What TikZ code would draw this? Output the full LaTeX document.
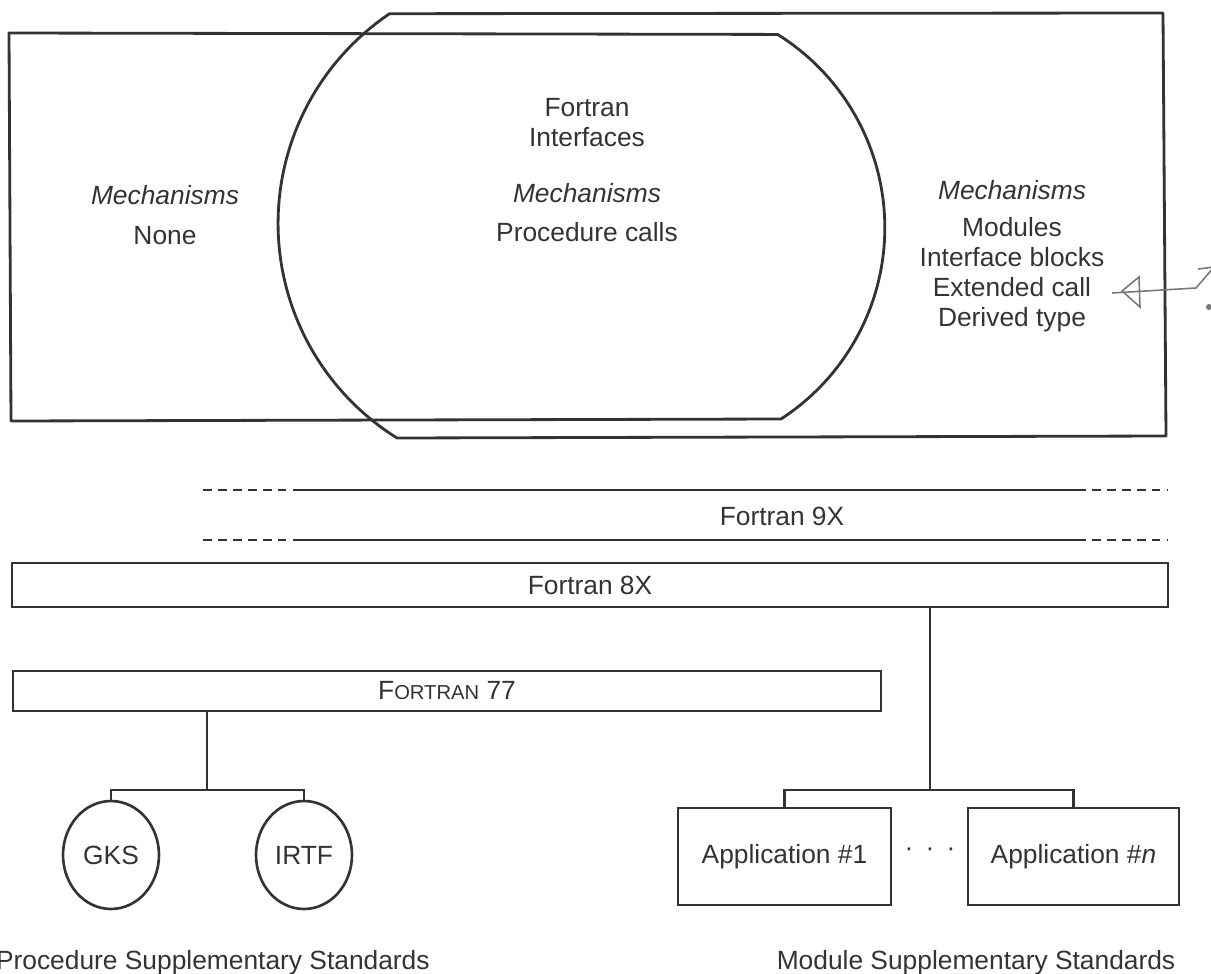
\documentclass[tikz,border=0pt]{standalone}
\usepackage{fontspec}
\setmainfont{Liberation Sans}
\usetikzlibrary{calc,positioning,shapes.geometric}
\definecolor{ink}{HTML}{333333}
\definecolor{pencil}{HTML}{777777}
\newcommand{\smallcap}[1]{{\fontsize{11.5}{12}\selectfont #1}}

\begin{document}
\begin{tikzpicture}[x=0.02cm,y=-0.02cm,
  outline/.style={draw=ink,line width=1.6pt,line join=round},
  link/.style={draw=ink,line width=1.2pt},
  rule/.style={draw=ink,line width=1.5pt},
  note/.style={draw=pencil,line width=0.9pt},
  txt/.style={font=\fontsize{15}{17}\selectfont,text=ink,align=center,inner sep=0pt},
  bar/.style={txt,draw=ink,line width=1.5pt,rectangle},
  stdnode/.style={txt,ellipse,draw=ink,line width=1.5pt,minimum width=1.92cm,minimum height=2.16cm}]
  \useasboundingbox (0,0) rectangle (1211,974);

  \draw[outline] (9,33) -- (11,421) -- (781,419) arc[start angle=57,end angle=-58,radius=228] -- cycle;
  \draw[outline] (397,438) arc[start angle=122,end angle=236,radius=253] -- (1163,13) -- (1166,436) -- cycle;

  \node[txt] (lmech) at (165,215) {\textit{Mechanisms}\\[5.7pt]None};
  \node[txt] (mmech) at (587,170) {Fortran\\Interfaces\\[14.7pt]\textit{Mechanisms}\\[5pt]Procedure calls};
  \node[txt] (rmech) at (1012,256) {\textit{Mechanisms}\\[4pt]Modules\\Interface blocks\\Extended call\\Derived type};

  \draw[note] (1198,269) -- (1214,267) -- (1196,288) -- (1112,293);
  \draw[note] (1122,291) -- (1139,277) -- (1140,307) -- cycle;
  \fill[pencil] (1209,307) circle[radius=3];

  \node[txt] (f9x) at (782,516) {Fortran 9X};
  \foreach \yy in {490,540}{
    \draw[rule,dash pattern=on 5pt off 3.5pt] (203,\yy) -- (293,\yy);
    \draw[rule] (293,\yy) -- (1077,\yy);
    \draw[rule,dash pattern=on 5pt off 3.5pt] (1077,\yy) -- (1168,\yy);
  }

  \node[bar,minimum width=23.12cm,minimum height=0.88cm] (f8x) at (590,585) {Fortran 8X};
  \node[bar,minimum width=17.36cm,minimum height=0.8cm] (f77) at (447,691) {F\smallcap{ORTRAN} 77};

  \node[stdnode] (gks) at (111,855) {GKS};
  \node[stdnode] (irtf) at (304,855) {IRTF};
  \coordinate (pjoin) at (207,790);
  \draw[link] (pjoin |- f77.south) -- (pjoin);
  \draw[link] (gks.north) |- (pjoin) -| (irtf.north);

  \node[bar,minimum width=4.26cm,minimum height=1.94cm] (app1) at (784.5,856.5) {Application \#1};
  \node[bar,minimum width=4.22cm,minimum height=1.94cm] (appn) at (1073.5,856.5) {Application \#\textit{n}};
  \node[txt] (dots) at (930,852) {\textperiodcentered\hspace{7pt}\textperiodcentered\hspace{7pt}\textperiodcentered};
  \coordinate (mjoin) at (930,790);
  \draw[link] (mjoin |- f8x.south) -- (mjoin);
  \draw[link] (app1.north) |- (mjoin) -| (appn.north);

  \node[txt,anchor=east] (procstd) at (430,963) {Procedure Supplementary Standards};
  \node[txt] (modstd) at (976,963) {Module Supplementary Standards};
\end{tikzpicture}
\end{document}
